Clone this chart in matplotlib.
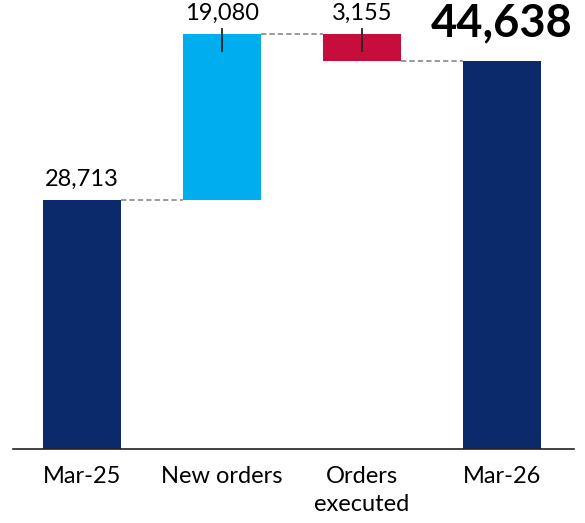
import matplotlib
matplotlib.use("Agg")
import matplotlib.pyplot as plt

# --- data ---
categories = ["Mar-25", "New orders", "Orders\nexecuted", "Mar-26"]
opening = 28713
new_orders = 19080
executed = 3155
closing = 44638

NAVY = "#0B2A6C"
CYAN = "#00ADEE"
RED = "#C70D3C"

plt.rcParams["font.family"] = ["Lato", "DejaVu Sans"]

fig = plt.figure(figsize=(5.85, 5.23), dpi=100)
ax = fig.add_axes([0.022, 0.1415, 0.959, 0.8585])

peak = opening + new_orders
bottoms = [0, opening, peak - executed, 0]
heights = [opening, new_orders, executed, closing]
colors = [NAVY, CYAN, RED, NAVY]
x = list(range(len(categories)))
w = 0.557

ax.bar(x, heights, bottom=bottoms, width=w, color=colors, zorder=2)

ymax = 51710
ax.set_xlim(-0.493, 3.514)
ax.set_ylim(0, ymax)

# connectors between bars
levels = [opening, peak, peak - executed]
for i, lvl in enumerate(levels):
    ax.plot([i + w / 2, i + 1 - w / 2], [lvl, lvl], color="#7f7f7f",
            lw=1.1, ls=(0, (3.5, 2)), zorder=1)

# value labels
ax.annotate(f"{opening:,}", (0, opening), xytext=(0, 7), textcoords="offset points",
            ha="center", va="bottom", fontsize=17)
for i, v in [(1, new_orders), (2, executed)]:
    ax.annotate(f"{v:,}", (i, peak), xytext=(0, 7), textcoords="offset points",
                ha="center", va="bottom", fontsize=17)
    ax.plot([i, i], [peak + ymax * 0.011, peak - ymax * 0.037], color="#222222",
            lw=1.3, zorder=3)
ax.annotate(f"{closing:,}", (3, closing), xytext=(0, 12.5), textcoords="offset points",
            ha="center", va="bottom", fontsize=32.5, fontweight="bold")

ax.set_xticks(x)
ax.set_xticklabels(categories, fontsize=17, linespacing=1.45, va="top")
ax.tick_params(axis="x", length=0, pad=12)
ax.set_yticks([])
for s in ["top", "left", "right"]:
    ax.spines[s].set_visible(False)
ax.spines["bottom"].set_color("#222222")
ax.spines["bottom"].set_linewidth(1.2)

fig.savefig("out.png", dpi=100)
